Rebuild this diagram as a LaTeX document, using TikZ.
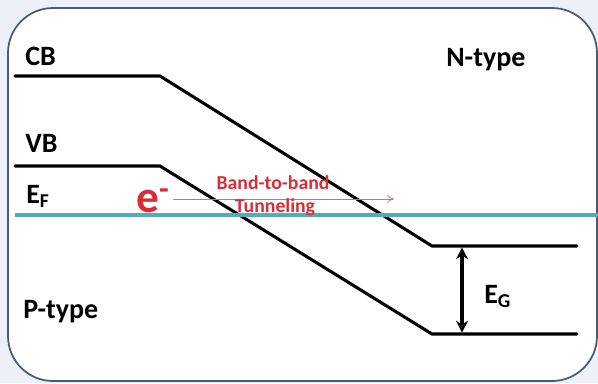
\documentclass[tikz,border=0pt]{standalone}
\usepackage{fontspec}
\setmainfont{Carlito}
\usetikzlibrary{arrows.meta}
\definecolor{frame}{RGB}{70,92,115}
\definecolor{fermi}{RGB}{85,170,190}
\definecolor{tunred}{RGB}{215,45,55}
\definecolor{tunarrow}{RGB}{190,120,110}
\definecolor{wash}{RGB}{236,241,249}
\tikzset{
  band/.style={line width=2.3pt, line cap=round},
  lbl/.style={font=\fontsize{21}{24}\selectfont\bfseries, anchor=base west, inner sep=0pt},
  tun/.style={font=\fontsize{14.8}{17}\selectfont\bfseries, text=tunred, inner sep=0pt},
}
\begin{document}
\begin{tikzpicture}[x=0.75pt,y=-0.75pt]
\useasboundingbox (0,0) rectangle (598,383);
\fill[wash] (0,0) rectangle (598,383);
\draw[frame, line width=1.3pt, fill=white, rounded corners=45pt*0.75] (8,8) rectangle (597,381);
% bands
\coordinate (cbL) at (15,76);
\coordinate (cbK) at (160,76);
\coordinate (cbN) at (432,246);
\coordinate (cbR) at (577,246);
\coordinate (vbL) at (15,166);
\coordinate (vbK) at (160,166);
\coordinate (vbN) at (432,334);
\coordinate (vbR) at (577,334);
\coordinate (efL) at (15,215);
\coordinate (efR) at (598,215);
\draw[band] (cbL) -- (cbK) -- (cbN) -- (cbR);
\draw[band] (vbL) -- (vbK) -- (vbN) -- (vbR);
\draw[fermi, line width=2.3pt] (efL) -- (efR);
% labels
\node[lbl] (cb) at (25,65) {CB};
\node[lbl] (vb) at (25,152) {VB};
\node[lbl] (ef) at (26,203) {E\textsubscript{F}};
\node[lbl] (nt) at (446,66) {N-type};
\node[lbl] (pt) at (23,318) {P-type};
% tunneling
\node[font=\fontsize{34}{36}\selectfont\bfseries, text=tunred, anchor=base west, inner sep=0pt] (el) at (136,212) {e\textsuperscript{-}};
\coordinate (tunEnd) at (394,199);
\draw[tunarrow, line width=0.6pt, -{To[length=5pt,width=6pt]}] (173,199) -- (tunEnd);
\node[tun] (bb) at (273,183) {Band-to-band};
\node[tun] (tn) at (275,207) {Tunneling};
% gap
\coordinate (gT) at (462,246);
\coordinate (gB) at (462,334);
\draw[line width=2.3pt, {Stealth[length=9pt,width=9pt,inset=3pt]}-{Stealth[length=9pt,width=9pt,inset=3pt]}, shorten <=1pt, shorten >=1pt] (gT) -- (gB);
\node[lbl] (eg) at (484,303) {E\textsubscript{G}};
\end{tikzpicture}
\end{document}
